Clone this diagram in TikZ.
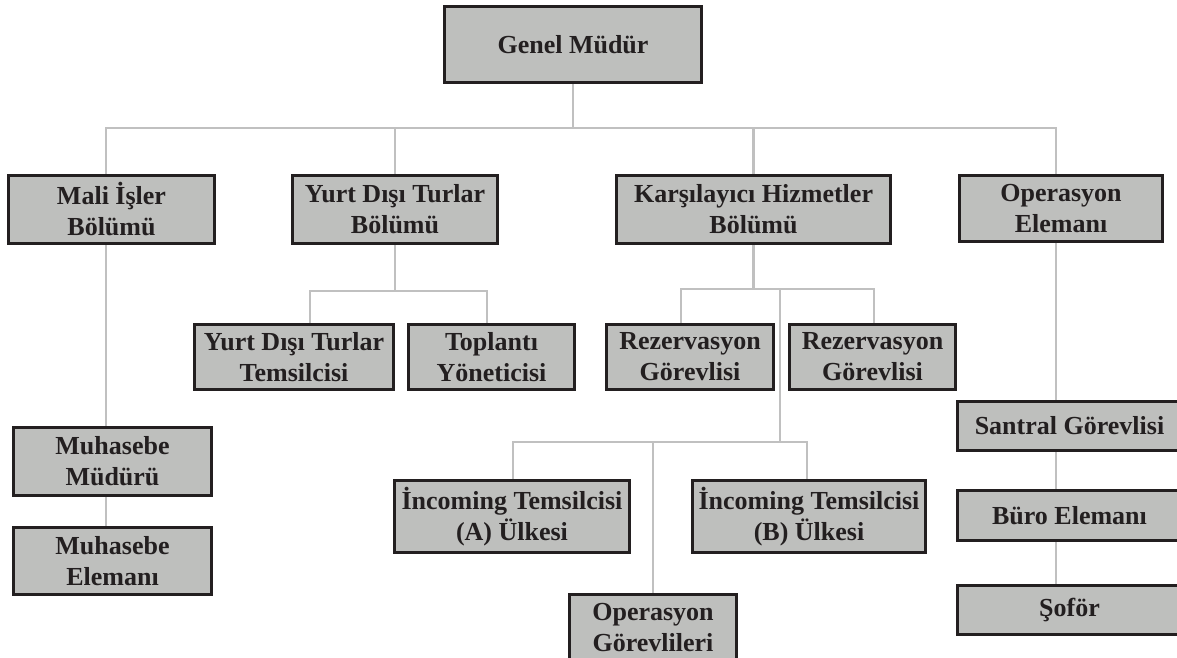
\documentclass[tikz,border=0pt]{standalone}
\usepackage{fontspec}
\setmainfont{Liberation Serif}
\usetikzlibrary{positioning,backgrounds}

\definecolor{boxgray}{RGB}{190,191,189}
\definecolor{linkgray}{RGB}{192,192,192}
\definecolor{inkblack}{RGB}{35,31,32}

\begin{document}
\begin{tikzpicture}[x=1pt, y=-1pt,
  box/.style={draw=inkblack, line width=3pt, fill=boxgray, text=inkblack,
    align=center, inner sep=0pt, font=\bfseries\fontsize{26}{31}\selectfont},
  link/.style={draw=linkgray, line width=2.6pt}]
    \useasboundingbox (0,0) rectangle (1177,658);
    \clip (0,0) rectangle (1177,658);

    % top and department row
    \node[box, minimum width=257pt, minimum height=76pt] (gm) at (573,44.5) {Genel Müdür};
    \node[box, minimum width=206pt, minimum height=68pt] (mali) at (111.5,209.5) {Mali İşler\\Bölümü};
    \node[box, minimum width=205pt, minimum height=68pt] (yurt) at (395,209.5) {Yurt Dışı Turlar\\Bölümü};
    \node[box, minimum width=274pt, minimum height=68pt] (kars) at (753.5,209.5) {Karşılayıcı Hizmetler\\Bölümü};
    \node[box, minimum width=203pt, minimum height=66pt] (opel) at (1061,208.5) {Operasyon\\Elemanı};

    % second row
    \node[box, minimum width=199pt, minimum height=65pt] (ytt) at (294,357) {Yurt Dışı Turlar\\Temsilcisi};
    \node[box, minimum width=166pt, minimum height=65pt] (top) at (491.5,357) {Toplantı\\Yöneticisi};
    \node[box, minimum width=167pt, minimum height=65pt] (rez1) at (690,357) {Rezervasyon\\Görevlisi};
    \node[box, minimum width=166pt, minimum height=65pt] (rez2) at (872.5,357) {Rezervasyon\\Görevlisi};

    % incoming row
    \node[box, minimum width=235pt, minimum height=72pt] (incA) at (512,516.5) {İncoming Temsilcisi\\(A) Ülkesi};
    \node[box, minimum width=233pt, minimum height=72pt] (incB) at (809,516.5) {İncoming Temsilcisi\\(B) Ülkesi};
    \node[box, minimum width=167pt, minimum height=67pt] (opg) at (653,628) {Operasyon\\Görevlileri};

    % left column
    \node[box, minimum width=198pt, minimum height=68pt] (mm) at (112.5,461.5) {Muhasebe\\Müdürü};
    \node[box, minimum width=198pt, minimum height=67pt] (me) at (112.5,561) {Muhasebe\\Elemanı};

    % right column
    \node[box, minimum width=224pt, minimum height=49pt] (san) at (1069.5,426) {Santral Görevlisi};
    \node[box, minimum width=224pt, minimum height=50pt] (buro) at (1069.5,515.5) {Büro Elemanı};
    \node[box, minimum width=224pt, minimum height=49pt] (sof) at (1069.5,610) {Şoför};

    \coordinate (bus) at (573,128);
    \coordinate (yfork) at (395,291);
    \coordinate (kfork) at (753.5,289);
    \coordinate (ifork) at (780,442);

    \begin{scope}[on background layer]
      \draw[link] (gm) -- (bus);
      \draw[link] ([xshift=-5.5pt]mali.north) |- (bus) -| ([xshift=-5pt]opel.north);
      \draw[link] (yurt) -- (yurt |- bus);
      \draw[link] (kars) -- (kars |- bus);

      \draw[link] (yurt) -- (yfork);
      \draw[link] ([xshift=16pt]ytt.north) |- (yfork) -| ([xshift=-4.5pt]top.north);

      \draw[link] (kars) -- (kfork);
      \draw[link] ([xshift=-9pt]rez1.north) |- (kfork) -| ([xshift=1.5pt]rez2.north);
      \draw[link] (kfork -| ifork) -- (ifork);
      \draw[link] ([xshift=1pt]incA.north) |- (ifork) -| ([xshift=-2pt]incB.north);
      \draw[link] (opg) -- (opg |- ifork);

      \draw[link] ([xshift=-5.5pt]mali.south) -- ([xshift=-6.5pt]mm.north);
      \draw[link] ([xshift=-6.5pt]mm.south) -- ([xshift=-6.5pt]me.north);

      \draw[link] ([xshift=-5pt]opel.south) -- ([xshift=-13.5pt]san.north);
      \draw[link] ([xshift=-13.5pt]san.south) -- ([xshift=-13.5pt]buro.north);
      \draw[link] ([xshift=-13.5pt]buro.south) -- ([xshift=-13.5pt]sof.north);
    \end{scope}
\end{tikzpicture}
\end{document}
